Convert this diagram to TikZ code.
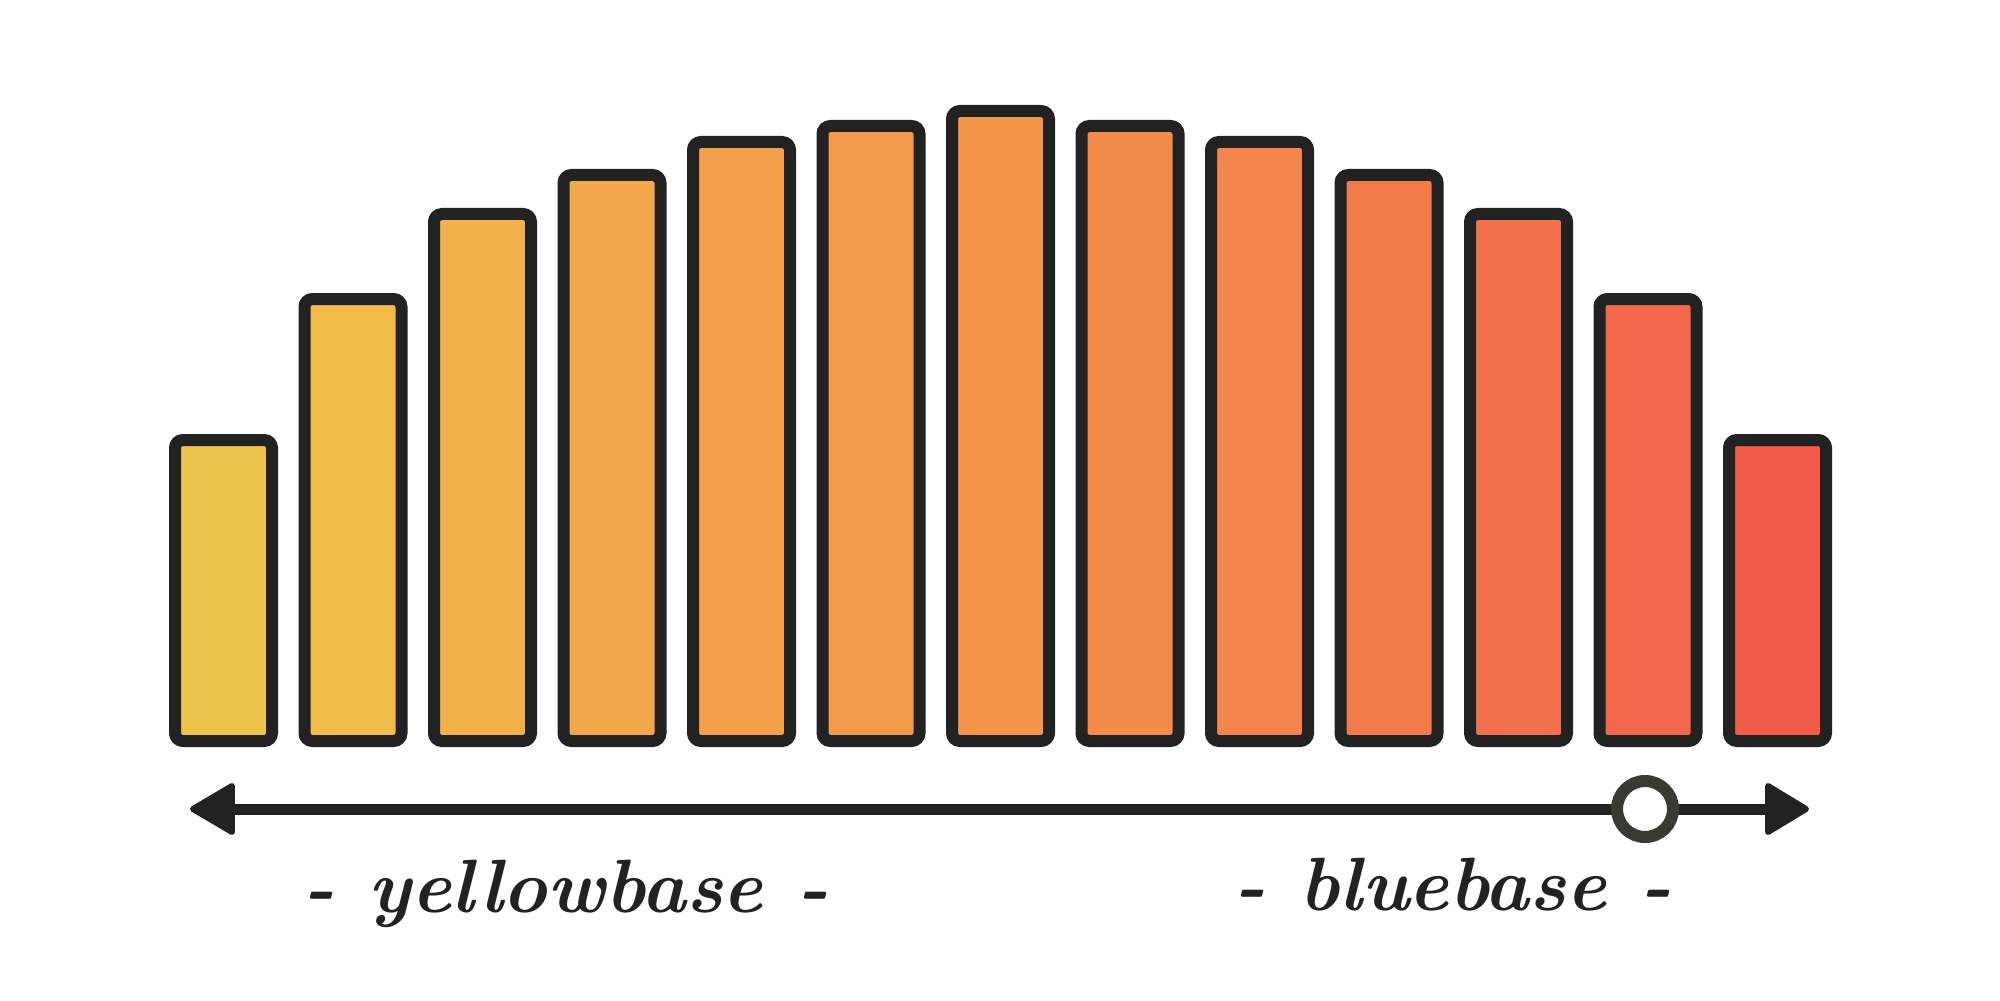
\documentclass[tikz,border=0pt]{standalone}
\usepackage{fontspec}
\definecolor{ink}{HTML}{222222}
\definecolor{ring}{HTML}{3A3A35}
\definecolor{c0}{HTML}{ECC44C}
\definecolor{c1}{HTML}{F1BC4A}
\definecolor{c2}{HTML}{F2B14A}
\definecolor{c3}{HTML}{F2A84A}
\definecolor{c4}{HTML}{F2A04A}
\definecolor{c5}{HTML}{F39A4A}
\definecolor{c6}{HTML}{F4964A}
\definecolor{c7}{HTML}{F38B4B}
\definecolor{c8}{HTML}{F3844B}
\definecolor{c9}{HTML}{F37B4B}
\definecolor{c10}{HTML}{F2704B}
\definecolor{c11}{HTML}{F2674B}
\definecolor{c12}{HTML}{F05B4A}
\begin{document}
\begin{tikzpicture}[x=0.02cm,y=-0.02cm,
  barbox/.style={draw=ink, line width=6.83pt, rounded corners=4.5pt},
  axisline/.style={draw=ink, line width=6.26pt},
  tiphead/.style={fill=ink, draw=ink, line join=round, line width=3.4pt},
  marker/.style={circle, draw=ring, fill=white, line width=6.83pt, inner sep=0pt, minimum size=1.12cm},
  labeltext/.style={anchor=base, text=ink, font=\fontsize{43}{45}\selectfont\bfseries\itshape}]
\useasboundingbox (0,0) rectangle (2000,1000);
\foreach \i/\t in {0/434,1/293,2/208,3/169,4/136,5/120,6/105,7/120,8/136,9/169,10/208,11/293,12/434} {
  \draw[barbox, fill=c\i] ({175+129.5*\i},741) rectangle ({272+129.5*\i},{\t+6});
}
\coordinate (L) at (230,809);
\coordinate (R) at (1770,809);
\draw[axisline] (L) -- (R);
\filldraw[tiphead] (193,809) -- (232,786) -- (232,832) -- cycle;
\filldraw[tiphead] (1806,809) -- (1768,786) -- (1768,832) -- cycle;
\node[marker] (m) at (1645,809) {};
\node[labeltext] (yb) at (566,912) {-\hspace{0.45em}yellowbase\hspace{0.45em}-};
\node[labeltext] (bb) at (1453,910) {-\hspace{0.45em}bluebase\hspace{0.45em}-};
\end{tikzpicture}
\end{document}
